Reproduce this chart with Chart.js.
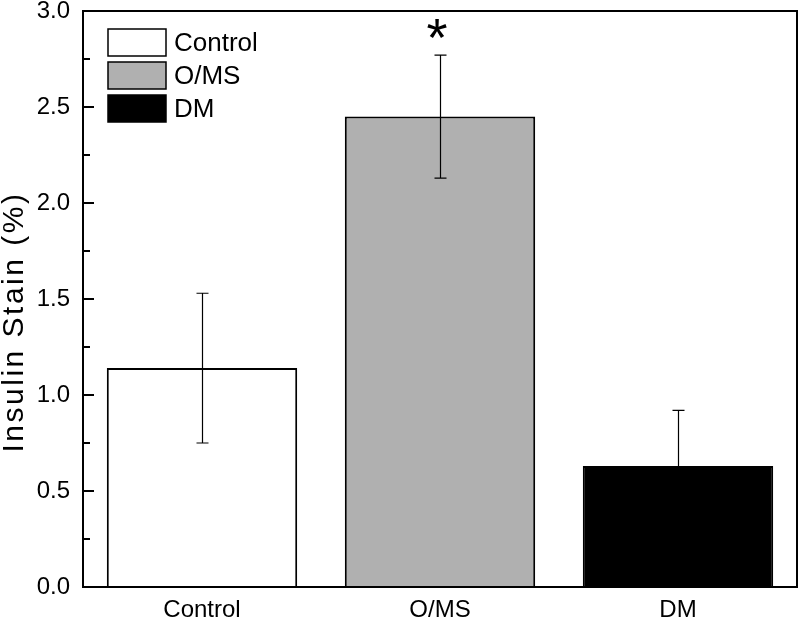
<!DOCTYPE html>
<html>
<head>
<meta charset="utf-8">
<script src="https://cdn.jsdelivr.net/npm/chart.js@4/dist/chart.umd.min.js"></script>
<style>
  html, body { margin: 0; padding: 0; background: #fff; }
  #wrap { width: 800px; height: 621px; }
</style>
</head>
<body>
<div id="wrap"><canvas id="c" width="800" height="621"></canvas></div>
<script>
  // data
  const groups = ['Control', 'O/MS', 'DM'];
  const means = [1.14, 2.45, 0.63];
  const errs = [0.39, 0.32, 0.29];
  const fills = ['#ffffff', '#b0b0b0', '#000000'];
  const yTicks = [0, 0.5, 1.0, 1.5, 2.0, 2.5, 3.0];
  const marks = ['', '*', ''];
  const yTitle = 'Insulin Stain (%)';

  const FONT = '"Liberation Sans", Arial, Helvetica, sans-serif';

  // frame, inward ticks, error bars, star, legend, axis title
  const extras = {
    id: 'extras',
    afterDatasetsDraw(chart) {
      const ctx = chart.ctx;
      const a = chart.chartArea;
      const y = chart.scales.y;
      const x = chart.scales.x;

      ctx.save();
      // error bars
      ctx.strokeStyle = '#000';
      ctx.lineWidth = 1.2;
      means.forEach((m, i) => {
        const px = Math.round(x.getPixelForValue(i)) + 0.5;
        const top = y.getPixelForValue(m + errs[i]);
        const bot = y.getPixelForValue(m - errs[i]);
        ctx.beginPath();
        ctx.moveTo(px, top); ctx.lineTo(px, bot);
        ctx.moveTo(px - 6, top); ctx.lineTo(px + 6, top);
        ctx.moveTo(px - 6, bot); ctx.lineTo(px + 6, bot);
        ctx.stroke();
      });

      // significance mark
      ctx.fillStyle = '#000';
      ctx.font = '54px ' + FONT;
      ctx.textAlign = 'center';
      ctx.textBaseline = 'alphabetic';
      marks.forEach((s, i) => {
        if (!s) return;
        ctx.fillText(s, x.getPixelForValue(i) - 3, y.getPixelForValue(means[i] + errs[i]) + 1);
      });

      // frame
      ctx.strokeStyle = '#000';
      ctx.lineWidth = 2;
      ctx.strokeRect(a.left, a.top, a.right - a.left, a.bottom - a.top);

      // inward ticks on left axis, major + minor
      for (let v = 0; v <= 3.0001; v += 0.25) {
        const py = Math.round(y.getPixelForValue(v));
        const major = Math.abs(v * 2 - Math.round(v * 2)) < 1e-6;
        ctx.beginPath();
        ctx.moveTo(a.left, py);
        ctx.lineTo(a.left + (major ? 11 : 7), py);
        ctx.stroke();
      }

      // legend
      ctx.font = '26px ' + FONT;
      ctx.textAlign = 'left';
      ctx.textBaseline = 'middle';
      groups.forEach((g, i) => {
        const bx = a.left + 25;
        const by = a.top + 18 + i * 33;
        ctx.fillStyle = fills[i];
        ctx.fillRect(bx, by, 58, 27);
        ctx.strokeStyle = '#000';
        ctx.lineWidth = 1.5;
        ctx.strokeRect(bx, by, 58, 27);
        ctx.fillStyle = '#000';
        ctx.fillText(g, bx + 66, by + 15);
      });

      // y axis title
      ctx.translate(15, 322);
      ctx.rotate(-Math.PI / 2);
      ctx.font = '30px ' + FONT;
      ctx.textAlign = 'center';
      ctx.textBaseline = 'middle';
      if ('letterSpacing' in ctx) ctx.letterSpacing = '2.5px';
      ctx.fillText(yTitle, 0, 0);
      ctx.restore();
    }
  };

  new Chart(document.getElementById('c'), {
    type: 'bar',
    data: {
      labels: groups,
      datasets: [{
        data: means,
        backgroundColor: fills,
        borderColor: '#000',
        borderWidth: 2,
        barPercentage: 0.8,
        categoryPercentage: 1.0,
      }],
    },
    options: {
      responsive: false,
      animation: false,
      devicePixelRatio: 1,
      layout: { padding: { top: 11, right: 3, left: 0, bottom: 0 } },
      plugins: { legend: { display: false }, tooltip: { enabled: false } },
      scales: {
        x: {
          offset: true,
          grid: { display: false, drawTicks: false },
          border: { display: false },
          ticks: { color: '#000', font: { family: FONT, size: 24 }, padding: 9 },
          afterFit: (s) => { s.height = 34; s.paddingLeft = 0; s.paddingRight = 0; },
        },
        y: {
          min: 0,
          max: 3,
          afterBuildTicks: (s) => { s.ticks = yTicks.map((v) => ({ value: v })); },
          grid: { display: false, drawTicks: false },
          border: { display: false },
          ticks: {
            color: '#000',
            font: { family: FONT, size: 24 },
            padding: 13,
            callback: (v) => Number(v).toFixed(1),
          },
          afterFit: (s) => { s.width = 83; s.paddingTop = 0; s.paddingBottom = 0; },
        },
      },
    },
    plugins: [extras],
  });
</script>
</body>
</html>
